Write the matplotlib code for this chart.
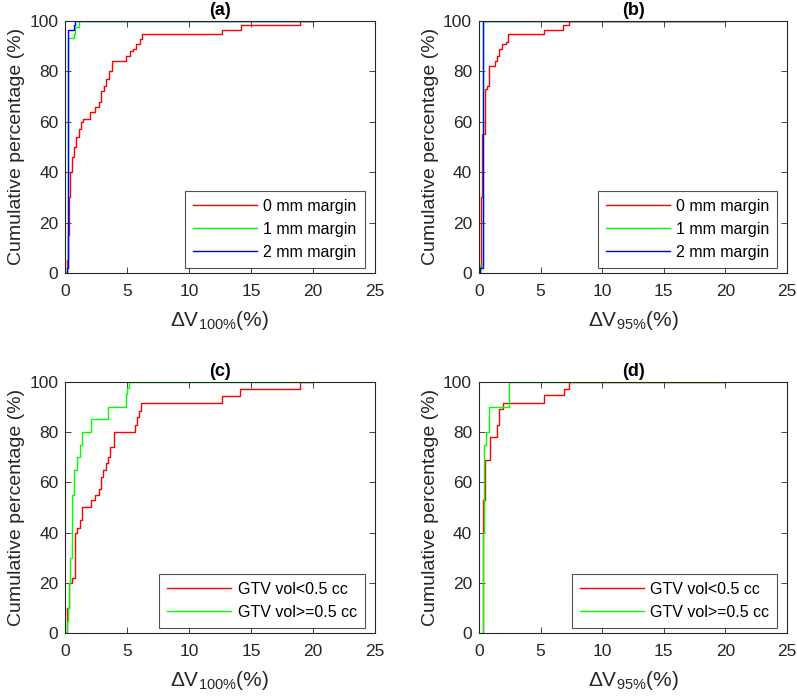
import matplotlib
matplotlib.use("Agg")
import matplotlib.pyplot as plt

plt.rcParams['font.family'] = ['Liberation Sans', 'DejaVu Sans']
plt.rcParams['mathtext.fontset'] = 'custom'
plt.rcParams['mathtext.rm'] = 'Liberation Sans'
plt.rcParams['mathtext.it'] = 'Liberation Sans:italic'

# (a) dV100, by margin
a0_x = [0, 0.1, 0.2, 0.3, 0.4, 0.5, 0.7, 0.9, 1.1, 1.3, 1.4, 2.0, 2.2, 2.4, 2.7, 2.9, 3.1, 3.3, 3.5, 3.8, 3.9,
        4.9, 5.2, 5.5, 5.7, 6.0, 6.2, 12.7, 14.2, 19.0, 20]
a0_y = [0, 5, 15, 30, 40, 46, 50, 54, 57, 60, 61, 64, 64, 66, 68, 72, 74, 77, 80, 84, 84,
        86, 88, 89, 91, 93, 95, 96.6, 98.3, 100, 100]
a1_x = [0, 0.15, 0.25, 0.4, 0.68, 0.8, 1.08, 20]
a1_y = [0, 2, 93.2, 93.2, 95, 97.4, 100, 100]
a2_x = [0, 0.13, 0.22, 0.68, 0.8, 20]
a2_y = [0, 2, 96.6, 98.3, 100, 100]

# (b) dV95, by margin
b0_x = [0, 0.1, 0.2, 0.27, 0.46, 0.65, 0.81, 1.27, 1.46, 1.62, 1.9, 2.2, 2.35, 5.25, 6.8, 7.3, 20]
b0_y = [0, 2, 30, 55, 73, 74, 82, 84, 86, 89, 91, 91.5, 95, 96.6, 98.3, 100, 100]
b1_x = [0, 0.1, 0.35, 20]
b1_y = [0, 3, 100, 100]
b2_x = [0, 0.05, 0.3, 20]
b2_y = [0, 2, 100, 100]

# (c) dV100, by GTV volume
c0_x = [0, 0.1, 0.27, 0.54, 0.8, 0.95, 1.16, 1.35, 2.05, 2.4, 2.7, 2.85, 3.05, 3.25, 3.43, 3.6, 3.92,
        5.6, 5.8, 5.95, 6.13, 12.7, 14.1, 19.0, 20]
c0_y = [0, 10, 20, 22, 40, 42, 45, 50, 53, 55, 57.5, 62, 65, 67.5, 70, 74, 80,
        83, 86, 88.5, 91.5, 94.5, 97.3, 100, 100]
c1_x = [0, 0.1, 0.2, 0.3, 0.4, 0.5, 0.55, 0.7, 0.95, 1.15, 1.35, 2.05, 3.45, 4.9, 5.0, 5.15, 20]
c1_y = [0, 5, 10, 20, 30, 45, 55, 65, 70, 75, 80, 85, 90, 95, 97.5, 100, 100]

# (d) dV95, by GTV volume
d0_x = [0.3, 0.32, 0.46, 0.86, 1.46, 1.62, 1.95, 5.3, 6.86, 7.3, 20]
d0_y = [0, 53, 69, 78, 83, 89, 91.7, 94.6, 97.3, 100, 100]
d1_x = [0, 0.27, 0.3, 0.38, 0.54, 0.81, 2.43, 20]
d1_y = [0, 0, 40, 75, 80, 90, 100, 100]

margin_labels = ['0 mm margin', '1 mm margin', '2 mm margin']
vol_labels = ['GTV vol<0.5 cc', 'GTV vol>=0.5 cc']

fig = plt.figure(figsize=(7.97, 6.98), dpi=100)
rects = [[0.082, 0.609, 0.388, 0.361], [0.601, 0.609, 0.3865, 0.361],
         [0.082, 0.093, 0.388, 0.360], [0.601, 0.093, 0.3865, 0.360]]
panels = [
    ('(a)', r'$\Delta$V$_{100\%}$(%)', [(a0_x, a0_y), (a1_x, a1_y), (a2_x, a2_y)], margin_labels, ['#ff0000', '#00ff00', '#0000ff']),
    ('(b)', r'$\Delta$V$_{95\%}$(%)', [(b0_x, b0_y), (b1_x, b1_y), (b2_x, b2_y)], margin_labels, ['#ff0000', '#00ff00', '#0000ff']),
    ('(c)', r'$\Delta$V$_{100\%}$(%)', [(c0_x, c0_y), (c1_x, c1_y)], vol_labels, ['#ff0000', '#00ff00']),
    ('(d)', r'$\Delta$V$_{95\%}$(%)', [(d0_x, d0_y), (d1_x, d1_y)], vol_labels, ['#ff0000', '#00ff00']),
]

edge = '#262626'
for rect, (title, xlab, curves, labels, colors) in zip(rects, panels):
    ax = fig.add_axes(rect)
    for (x, y), lab, col in zip(curves, labels, colors):
        ax.step(x, y, where='post', color=col, lw=1.0, label=lab)
    ax.set_xlim(0, 25)
    ax.set_ylim(0, 100)
    ax.set_xticks([0, 5, 10, 15, 20, 25])
    ax.set_yticks([0, 20, 40, 60, 80, 100])
    ax.tick_params(direction='in', top=True, right=True, labelsize=12.5, colors=edge, length=4, width=0.6)
    ax.tick_params(axis='x', pad=8)
    ax.tick_params(axis='y', pad=5)
    for s in ax.spines.values():
        s.set_color(edge)
        s.set_linewidth(0.8)
    ax.set_title(title, fontsize=13, fontweight='bold', pad=4)
    ax.set_xlabel(xlab, fontsize=15, color=edge, labelpad=7)
    ax.set_ylabel('Cumulative percentage (%)', fontsize=14, color=edge, labelpad=3)
    leg = ax.legend(loc='lower right', bbox_to_anchor=(0.968, 0.02), fontsize=11.5, frameon=True,
                    fancybox=False, handlelength=4.0, handletextpad=0.4, borderaxespad=0,
                    labelspacing=0.5, borderpad=0.5)
    leg.get_frame().set_edgecolor(edge)
    leg.get_frame().set_linewidth(0.8)

fig.savefig('out.png', dpi=100)
